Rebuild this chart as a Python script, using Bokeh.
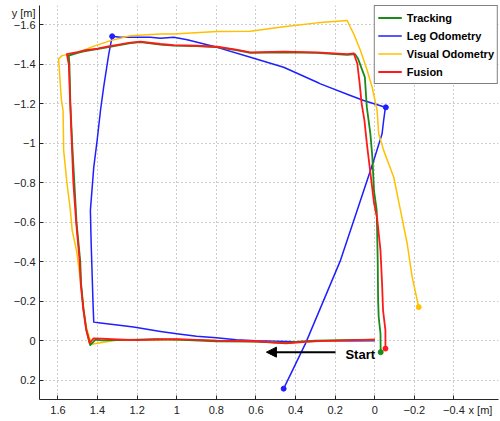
from bokeh.plotting import figure
from bokeh.models import (Range1d, FixedTicker, CustomJSTickFormatter, Legend, LegendItem,
                          Label, Arrow, NormalHead)
from bokeh.embed import file_html
from bokeh.resources import INLINE

# ---------------- data ----------------
series_names = ["Tracking", "Leg Odometry", "Visual Odometry", "Fusion"]
series_colors = ["#1a8a1a", "#1f1fff", "#ffc000", "#ff1a1a"]

track_x = [0.00, 0.15, 0.30, 0.38, 0.45, 0.50, 0.60, 0.80, 1.00, 1.10, 1.20, 1.30, 1.38, 1.41,
           1.437, 1.456, 1.470, 1.483, 1.487, 1.506, 1.517, 1.528, 1.537, 1.542, 1.545,
           1.50, 1.47, 1.352, 1.234, 1.183, 1.082, 1.015, 0.90, 0.796, 0.70, 0.628, 0.46,
           0.291, 0.139, 0.100, 0.085, 0.050, 0.040, 0.022, 0.012, 0.004, -0.010, -0.015,
           -0.017, -0.020, -0.029, -0.030]
track_y = [-0.005, -0.003, 0.000, 0.005, 0.012, 0.010, 0.005, 0.003, -0.005, -0.008, -0.005,
           -0.003, -0.002, -0.005, 0.022, -0.052, -0.153, -0.289, -0.400, -0.600, -0.800,
           -1.000, -1.200, -1.400, -1.444, -1.458, -1.466, -1.486, -1.507, -1.512, -1.500,
           -1.495, -1.492, -1.487, -1.472, -1.458, -1.461, -1.458, -1.448, -1.452, -1.430,
           -1.335, -1.183, -1.048, -0.930, -0.761, -0.660, -0.407, -0.204, -0.120, -0.035,
           0.058]

fus_x = [0.00, 0.15, 0.30, 0.38, 0.45, 0.50, 0.60, 0.80, 1.00, 1.10, 1.20, 1.30, 1.38, 1.42,
         1.440, 1.458, 1.472, 1.485, 1.490, 1.508, 1.522, 1.530, 1.538, 1.545, 1.555,
         1.50, 1.47, 1.40, 1.352, 1.234, 1.183, 1.082, 1.015, 0.90, 0.796, 0.70, 0.628, 0.46,
         0.291, 0.139, 0.106, 0.088, 0.076, 0.066, 0.052, 0.040, 0.022, 0.004, -0.012,
         -0.029, -0.037, -0.042, -0.054, -0.054]
fus_y = [-0.005, -0.002, 0.002, 0.008, 0.014, 0.010, 0.003, 0.000, -0.008, -0.006, -0.003,
         -0.006, -0.010, -0.012, 0.012, -0.060, -0.160, -0.290, -0.400, -0.600, -0.800,
         -1.000, -1.200, -1.400, -1.452, -1.462, -1.470, -1.480, -1.490, -1.510, -1.515,
         -1.503, -1.497, -1.494, -1.489, -1.475, -1.461, -1.464, -1.461, -1.452, -1.456,
         -1.403, -1.301, -1.200, -1.116, -1.000, -0.850, -0.700, -0.620, -0.457, -0.289,
         -0.153, -0.052, 0.040]

leg_x = [0.00, 0.20, 0.40, 0.60, 0.70, 0.80, 0.90, 1.00, 1.082, 1.218, 1.30, 1.385, 1.419,
         1.422, 1.432, 1.436, 1.419, 1.402, 1.385, 1.369, 1.343, 1.326, 1.284, 1.25, 1.133,
         1.082, 1.015, 0.947, 0.796, 0.628, 0.46, 0.291, 0.274, 0.123, 0.056, -0.054,
         -0.045, -0.037, 0.005, 0.089, 0.173, 0.258, 0.35, 0.46]
leg_y = [0.000, 0.002, 0.005, 0.000, -0.005, -0.015, -0.022, -0.035, -0.047, -0.069, -0.080,
         -0.090, -0.094, -0.170, -0.491, -0.660, -0.878, -1.014, -1.166, -1.284, -1.453,
         -1.542, -1.537, -1.537, -1.537, -1.532, -1.537, -1.525, -1.486, -1.436, -1.385,
         -1.309, -1.301, -1.242, -1.217, -1.183, -1.116, -1.048, -0.913, -0.660, -0.407,
         -0.204, 0.015, 0.243]

vis_x = [0.00, 0.30, 0.45, 0.60, 1.00, 1.30, 1.43, 1.455, 1.470, 1.486, 1.505, 1.528, 1.537,
         1.554, 1.571, 1.574, 1.582, 1.587, 1.596, 1.596, 1.579, 1.537, 1.47, 1.436, 1.335,
         1.234, 1.082, 1.015, 0.796, 0.628, 0.46, 0.291, 0.139, 0.123, 0.106, 0.072, 0.038,
         0.013, -0.012, -0.020, -0.045, -0.096, -0.130, -0.164, -0.189, -0.222]
vis_y = [-0.005, 0.003, 0.012, 0.004, -0.006, -0.004, 0.018, -0.060, -0.160, -0.305, -0.450,
         -0.559, -0.660, -0.795, -0.964, -1.166, -1.217, -1.284, -1.419, -1.428, -1.444,
         -1.453, -1.470, -1.486, -1.520, -1.545, -1.554, -1.554, -1.566, -1.568, -1.590,
         -1.610, -1.622, -1.588, -1.554, -1.470, -1.369, -1.284, -1.166, -1.048, -0.964,
         -0.828, -0.660, -0.491, -0.322, -0.170]

leg_mark_x = [1.326, -0.056]
leg_mark_y = [-1.542, -1.182]

x_ticks = [-0.4, -0.2, 0.0, 0.2, 0.4, 0.6, 0.8, 1.0, 1.2, 1.4, 1.6]
y_ticks = [-1.6, -1.4, -1.2, -1.0, -0.8, -0.6, -0.4, -0.2, 0.0, 0.2]
x_limits = (1.693, -0.625)
y_limits = (0.298, -1.698)

x_label_text = "x [m]"
x_label_pos = -0.534
y_label_text = "y [m]"
y_label_pos = -1.662

arrow_start = (0.198, 0.058)
arrow_end = (0.547, 0.058)
start_text_pos = (0.148, 0.069)
start_text = "Start"

# ---------------- figure ----------------
p = figure(width=500, height=421, output_backend="svg", toolbar_location=None,
           x_range=Range1d(*x_limits), y_range=Range1d(*y_limits),
           min_border_left=39, min_border_right=2, min_border_top=5, min_border_bottom=22)
p.outline_line_color = None
p.background_fill_color = "white"
p.border_fill_color = "white"

js = """
if (Math.abs(tick - pos) < 1e-6) { return txt; }
const v = Math.round(tick*10)/10;
let s = (Math.abs(v) < 1e-9) ? "0" : v.toString();
return s.replace('-', '\\u2212');
"""

axes = ((p.xaxis[0], x_ticks, x_label_pos, x_label_text),
        (p.yaxis[0], y_ticks, y_label_pos, y_label_text))
for ax, ticks, lpos, ltxt in axes:
    ax.ticker = FixedTicker(ticks=ticks + [lpos], minor_ticks=ticks)
    ax.formatter = CustomJSTickFormatter(args=dict(pos=lpos, txt=ltxt), code=js)
    ax.major_tick_in = 0
    ax.major_tick_out = 0
    ax.minor_tick_in = 4
    ax.minor_tick_out = 0
    ax.axis_line_color = "#262626"
    ax.minor_tick_line_color = "#262626"
    ax.major_label_text_font = "Liberation Sans"
    ax.major_label_text_font_size = "11px"
    ax.major_label_text_color = "#222222"
p.xaxis[0].major_label_standoff = 4
p.yaxis[0].major_label_standoff = 4

p.xgrid[0].ticker = FixedTicker(ticks=x_ticks)
p.ygrid[0].ticker = FixedTicker(ticks=y_ticks)
for g in (p.xgrid[0], p.ygrid[0]):
    g.grid_line_color = "#9a9a9a"
    g.grid_line_dash = "1 3"
    g.grid_line_width = 1

lines = {}
data = [(track_x, track_y), (leg_x, leg_y), (vis_x, vis_y), (fus_x, fus_y)]
widths = [1.8, 1.5, 1.5, 1.8]
draw_order = [1, 2, 0, 3]
for i in draw_order:
    xs, ys = data[i]
    r = p.line(xs, ys, line_color=series_colors[i], line_width=widths[i], line_join="round")
    lines[i] = r
    p.scatter([xs[-1]], [ys[-1]], size=5, color=series_colors[i])

p.scatter(leg_mark_x, leg_mark_y, size=5, color=series_colors[1])

legend = Legend(items=[LegendItem(label=series_names[i], renderers=[lines[i]]) for i in range(4)],
                location="top_right", margin=0, padding=3, spacing=1,
                glyph_width=24, glyph_height=17, label_height=17, label_standoff=5,
                label_text_font="Liberation Sans", label_text_font_size="11px",
                label_text_font_style="bold", label_text_color="black",
                border_line_color="black", border_line_width=1.2,
                background_fill_color="white", background_fill_alpha=1)
p.add_layout(legend)

p.add_layout(Arrow(end=NormalHead(size=10, fill_color="black", line_color="black"),
                   x_start=arrow_start[0], y_start=arrow_start[1],
                   x_end=arrow_end[0], y_end=arrow_end[1],
                   line_color="black", line_width=2))
p.add_layout(Label(x=start_text_pos[0], y=start_text_pos[1], text=start_text,
                   text_font="Liberation Sans", text_font_size="13px", text_font_style="bold",
                   text_baseline="middle", text_align="left", text_color="black"))

open("out.html", "w").write(file_html(p, INLINE))
